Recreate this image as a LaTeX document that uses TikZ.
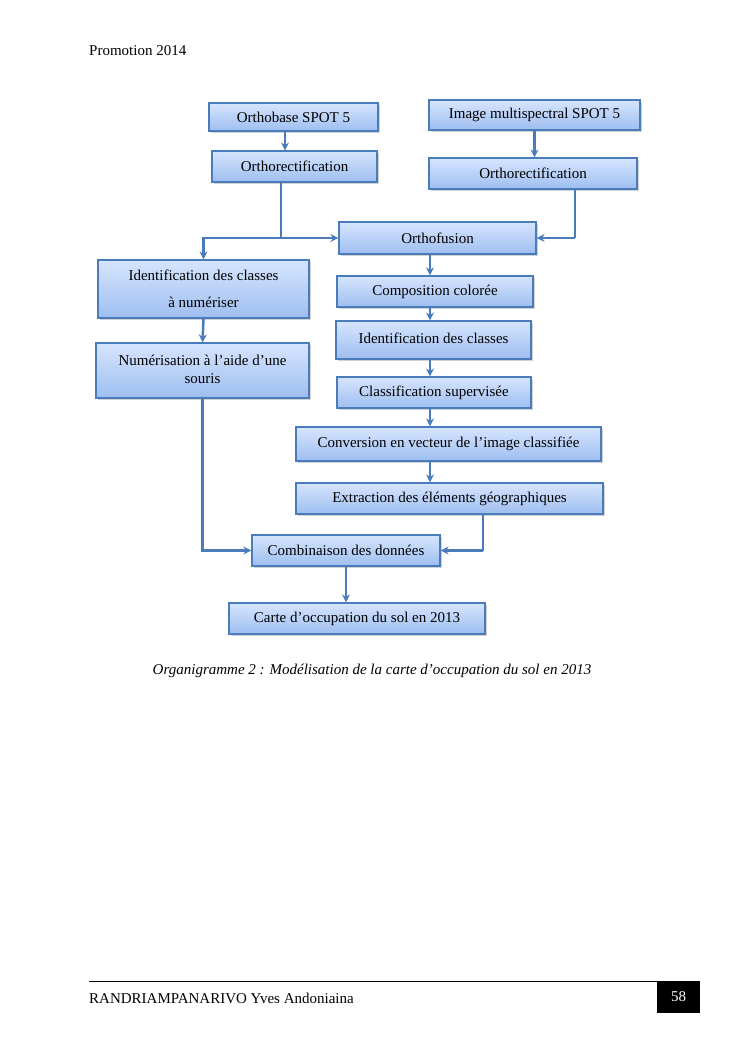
\documentclass[tikz,border=0pt]{standalone}
\usepackage{fontspec}
\setmainfont{Liberation Serif}
\usetikzlibrary{arrows.meta,shadows,calc}
\definecolor{lineblue}{RGB}{74,124,188}
\definecolor{boxtop}{RGB}{214,229,254}
\definecolor{boxbot}{RGB}{158,190,240}
\tikzset{
  box/.style={draw=lineblue, line width=1.2pt, top color=boxtop, bottom color=boxbot,
    drop shadow={shadow xshift=1.5pt, shadow yshift=-1.8pt, opacity=0.35},
    inner sep=0pt, align=center, font=\fontsize{15}{18}\selectfont},
  conn/.style={draw=lineblue, line width=2.5pt, -{Stealth[length=8pt,width=8pt]}},
  plain/.style={draw=lineblue, line width=2.5pt},
  txt/.style={inner sep=0pt, font=\fontsize{15}{18}\selectfont}
}
\begin{document}
\begin{tikzpicture}[x=1pt,y=-1pt]
\path[use as bounding box, fill=white] (0,0) rectangle (745,1053);

% header
\node[txt, anchor=west] (hdr) at (89,51) {Promotion 2014};

% boxes
\node[box, minimum width=169pt, minimum height=28pt] (ob) at (293.5,117) {Orthobase SPOT 5};
\node[box, minimum width=211pt, minimum height=30pt] (ims) at (534.5,115) {Image multispectral SPOT 5};
\node[box, minimum width=165pt, minimum height=31pt] (orl) at (294.5,166.5) {Orthorectification};
\node[box, minimum width=208pt, minimum height=31pt] (orr) at (533,173.5) {Orthorectification};
\node[box, minimum width=197pt, minimum height=32pt] (of) at (437.5,238) {Orthofusion};
\node[box, minimum width=211pt, minimum height=58pt] (idn) at (203.5,289) {Identification des classes\\[9pt] à numériser};
\node[box, minimum width=196pt, minimum height=31pt] (cc) at (435,291.5) {Composition colorée};
\node[box, minimum width=195pt, minimum height=38pt] (idc) at (433.5,340) {\raisebox{4pt}{Identification des classes}};
\node[box, minimum width=213pt, minimum height=55pt] (num) at (202.5,370.5) {\raisebox{4pt}{\begin{tabular}{@{}c@{}}Numérisation à l’aide d’une\\ souris\end{tabular}}};
\node[box, minimum width=194pt, minimum height=31pt] (cs) at (434,392.5) {Classification supervisée};
\node[box, minimum width=305pt, minimum height=34pt] (conv) at (448.5,444) {Conversion en vecteur de l’image classifiée};
\node[box, minimum width=307pt, minimum height=31pt] (ext) at (449.5,498.5) {Extraction des éléments géographiques};
\node[box, minimum width=188pt, minimum height=31pt] (comb) at (346,550.5) {Combinaison des données};
\node[box, minimum width=256pt, minimum height=31pt] (carte) at (357,618.5) {Carte d’occupation du sol en 2013};

% junctions
\coordinate (c) at (430,0);
\coordinate (j1) at (281,238);
\coordinate (j2) at (575,238);
\coordinate (j3) at (483,550.5);
\coordinate (k1) at (285,0);

% connectors
\draw[conn] (ob.south -| k1) -- (orl.north -| k1);
\draw[conn] (ims.south) -- (ims.south |- orr.north);
\draw[plain] (j1 |- orl.south) -- (j1);
\draw[conn] (j1) -- (of.west);
\draw[conn] (j1) -| (idn.north);
\draw[plain] (j2 |- orr.south) -- (j2);
\draw[conn] (j2) -- (of.east);
\draw[conn] (of.south -| c) -- (cc.north -| c);
\draw[conn] (cc.south -| c) -- (idc.north -| c);
\draw[conn] (idc.south -| c) -- (cs.north -| c);
\draw[conn] (cs.south -| c) -- (conv.north -| c);
\draw[conn] (conv.south -| c) -- (ext.north -| c);
\draw[conn] (idn.south) -- (num.north);
\draw[plain] (j3 |- ext.south) -- (j3);
\draw[conn] (j3) -- (comb.east);
\draw[conn] (num.south) |- (comb.west);
\draw[conn] (comb.south) -- (comb.south |- carte.north);

% caption
\node[txt, font=\fontsize{15}{18}\selectfont\itshape] (cap) at (372,671) {Organigramme 2 : Modélisation de la carte d’occupation du sol en 2013};

% footer
\coordinate (fl) at (89,981);
\coordinate (fr) at (700,981);
\draw[line width=0.8pt] (fl) -- (fr);
\node[txt, anchor=west] (auth) at (89,998) {RANDRIAMPANARIVO Yves Andoniaina};
\node[fill=black, minimum width=43pt, minimum height=32pt, inner sep=0pt, text=white, font=\fontsize{15}{18}\selectfont] (pg) at (678.5,997) {58};
\end{tikzpicture}
\end{document}
